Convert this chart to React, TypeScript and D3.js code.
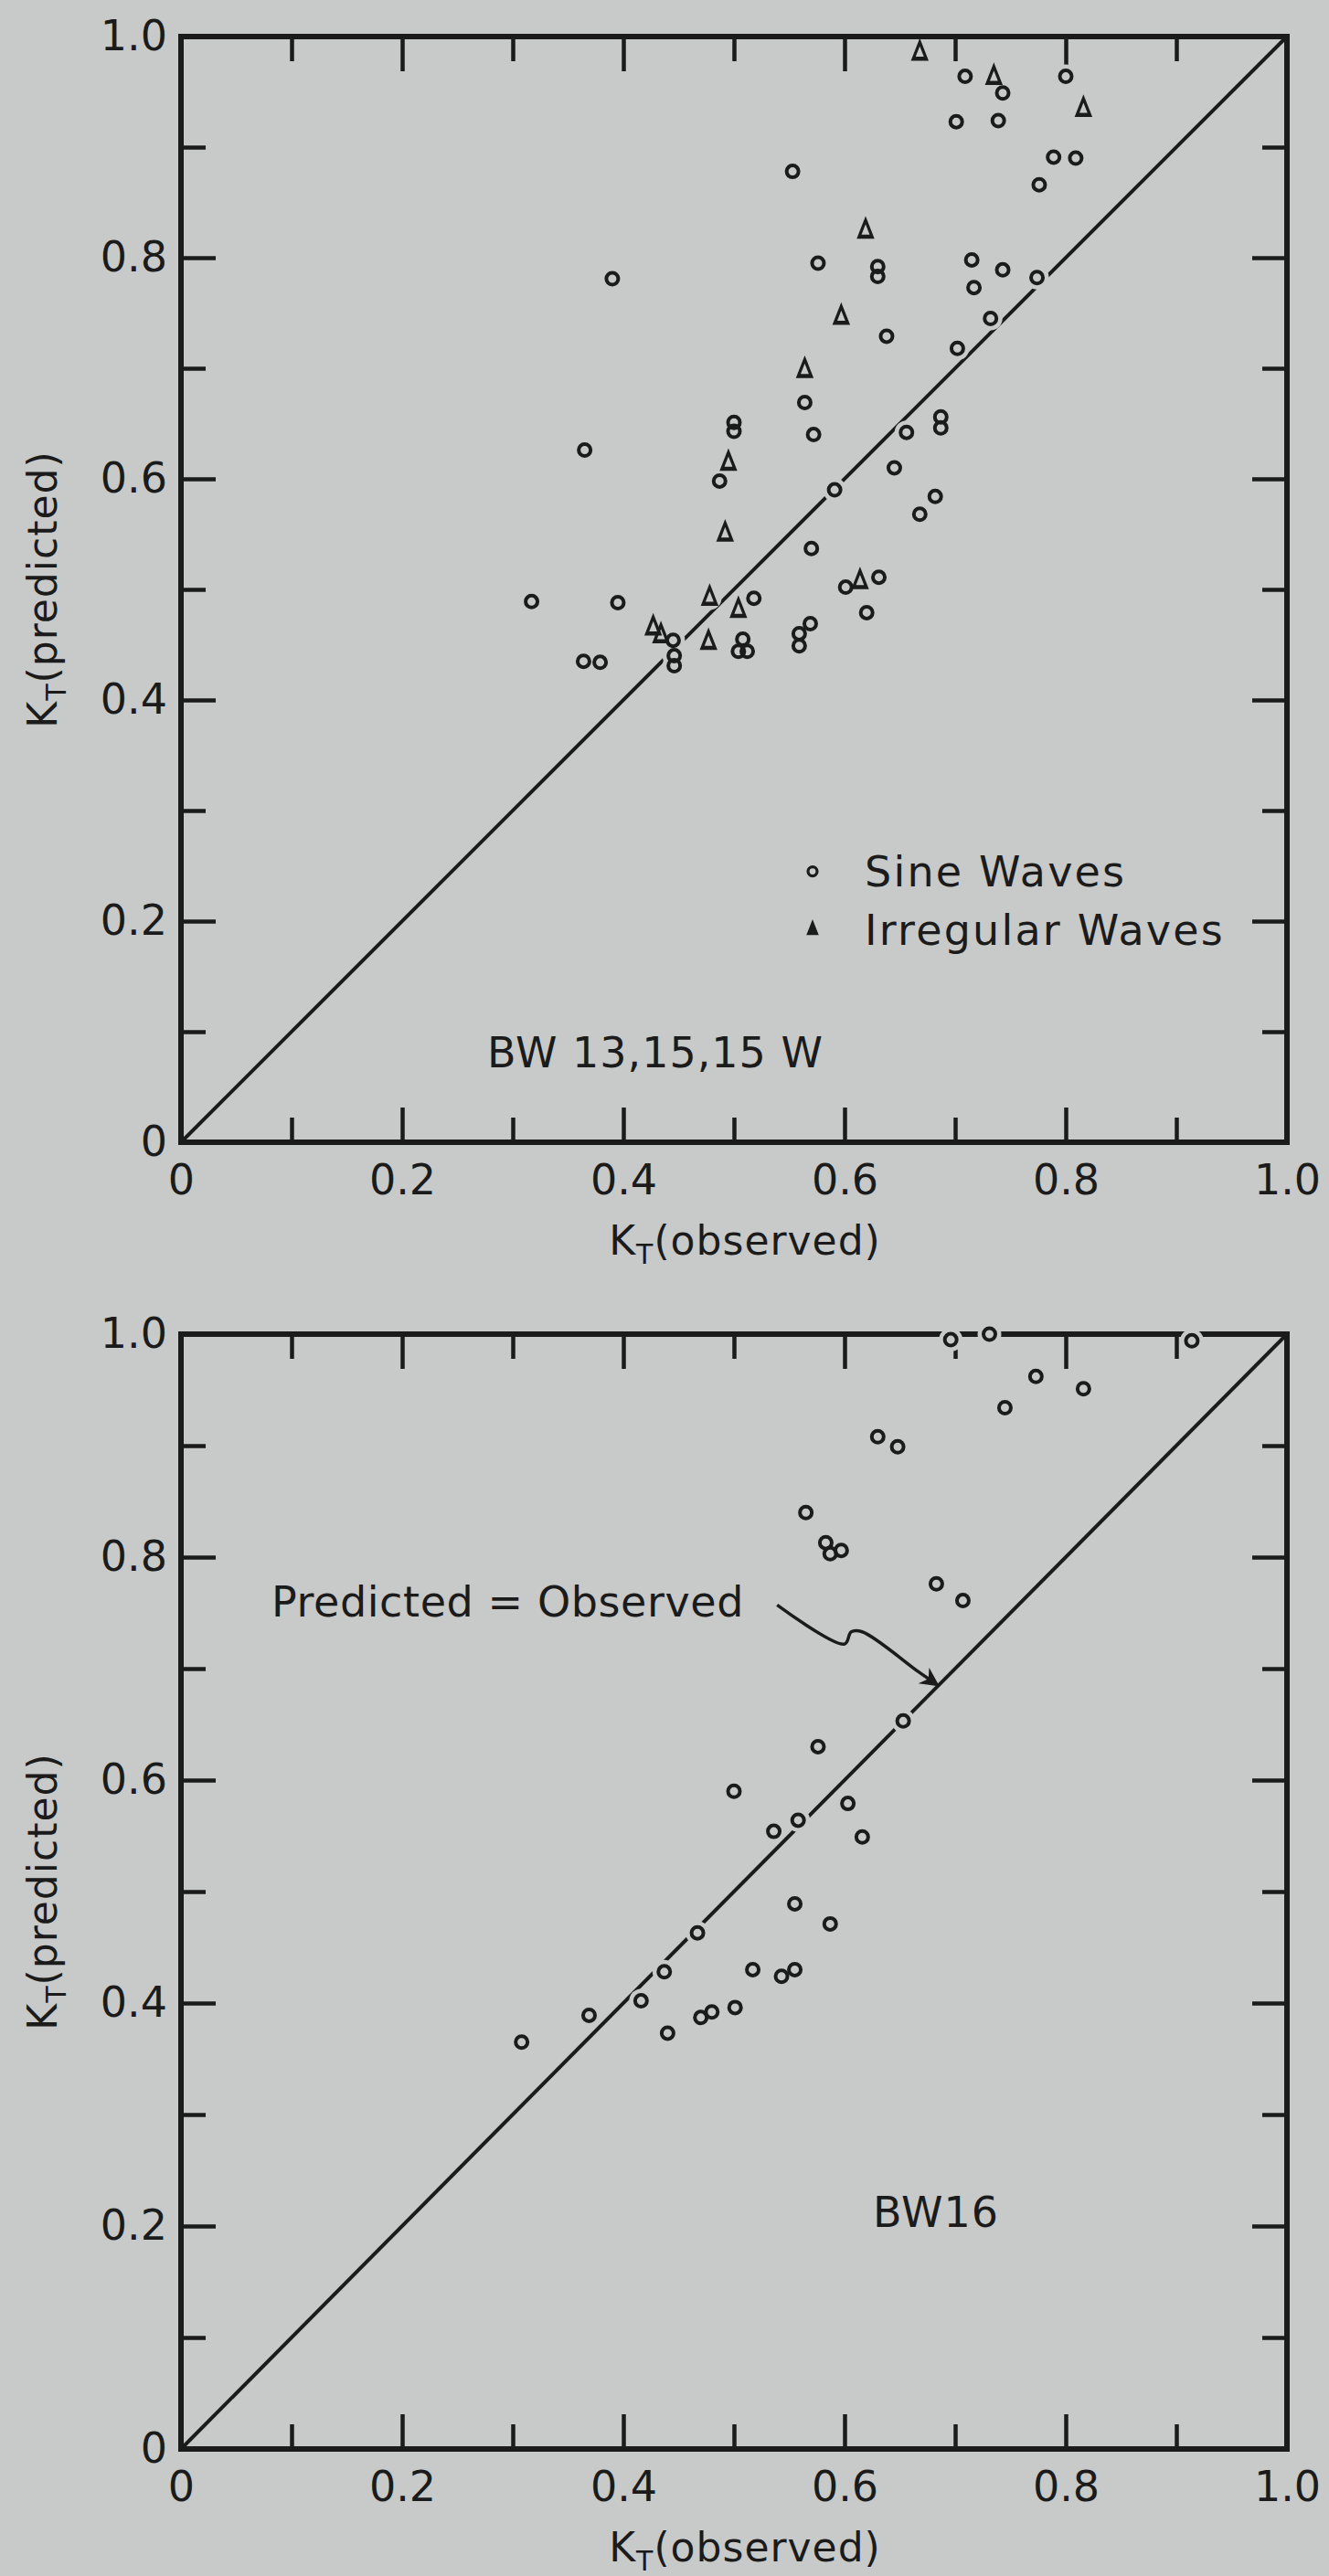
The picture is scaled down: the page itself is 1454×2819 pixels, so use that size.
import React, { useEffect, useRef } from 'react';
import * as d3 from 'd3';

// ---- data: K_T observed vs K_T predicted ----

// upper panel (BW 13, 15, 15W), sine waves
const topSineObs = [
  0.553, 0.576, 0.63, 0.63, 0.39, 0.638, 0.564, 0.5, 0.5, 0.572, 0.365, 0.656,
  0.709, 0.743, 0.8, 0.701, 0.739, 0.789, 0.809, 0.776, 0.715, 0.743, 0.774,
  0.717, 0.732, 0.702, 0.687, 0.687, 0.487, 0.591, 0.645, 0.57, 0.631, 0.601,
  0.62, 0.317, 0.395, 0.518, 0.445, 0.446, 0.446, 0.364, 0.379, 0.504, 0.512,
  0.508, 0.559, 0.569, 0.559, 0.682, 0.668
];
const topSinePred = [
  0.878, 0.795, 0.792, 0.783, 0.781, 0.729, 0.669, 0.651, 0.643, 0.64, 0.626,
  0.642, 0.964, 0.949, 0.964, 0.923, 0.924, 0.891, 0.89, 0.866, 0.798, 0.789,
  0.782, 0.773, 0.745, 0.718, 0.656, 0.646, 0.598, 0.59, 0.61, 0.537, 0.511,
  0.502, 0.479, 0.489, 0.488, 0.492, 0.454, 0.44, 0.431, 0.435, 0.434, 0.444,
  0.444, 0.455, 0.449, 0.469, 0.46, 0.584, 0.568
];

// upper panel, irregular waves
const topIrregObs = [
  0.668, 0.735, 0.816, 0.619, 0.597, 0.564, 0.495, 0.492, 0.614, 0.478, 0.504,
  0.427, 0.434, 0.477
];
const topIrregPred = [
  0.985, 0.963, 0.934, 0.824, 0.746, 0.698, 0.614, 0.55, 0.507, 0.492, 0.481,
  0.465, 0.458, 0.452
];

// lower panel (BW16), sine waves
const bottomSineObs = [
  0.696, 0.731, 0.914, 0.773, 0.816, 0.745, 0.63, 0.648, 0.683, 0.707, 0.653,
  0.565, 0.583, 0.587, 0.597, 0.576, 0.5, 0.603, 0.558, 0.536, 0.616, 0.555,
  0.587, 0.467, 0.437, 0.517, 0.543, 0.555, 0.416, 0.369, 0.501, 0.47, 0.48,
  0.44, 0.308
];
const bottomSinePred = [
  0.995, 1.0, 0.994, 0.962, 0.951, 0.934, 0.908, 0.899, 0.776, 0.761, 0.653,
  0.84, 0.813, 0.803, 0.806, 0.63, 0.59, 0.579, 0.564, 0.554, 0.549, 0.489,
  0.471, 0.463, 0.428, 0.43, 0.424, 0.43, 0.402, 0.389, 0.396, 0.387, 0.392,
  0.373, 0.365
];

// "Predicted = Observed" pointer, in data units
const arrowObs = [0.539, 0.6, 0.606, 0.616, 0.667, 0.683];
const arrowPred = [0.757, 0.722, 0.733, 0.733, 0.697, 0.686];

const majorTicks = [0, 0.2, 0.4, 0.6, 0.8, 1.0];
const minorTicks = [0.1, 0.3, 0.5, 0.7, 0.9];
const tickLabels = ['0', '0.2', '0.4', '0.6', '0.8', '1.0'];

const W = 1454;
const H = 2819;
const BG = '#c8cac9';
const INK = '#1b1b1b';
const FONT = '"DejaVu Sans", Verdana, sans-serif';

type Sel = d3.Selection<SVGGElement, unknown, null, undefined>;

interface PanelCfg {
  yBottom: number;
  yTop: number;
  sine: Array<[number, number]>;
  irregular: Array<[number, number]>;
  label: string;
  labelX: number;
  labelY: number;
  legend: boolean;
  arrow: boolean;
}

function drawPanel(root: Sel, cfg: PanelCfg) {
  const x = d3.scaleLinear().domain([0, 1]).range([198, 1408]);
  const y = d3.scaleLinear().domain([0, 1]).range([cfg.yBottom, cfg.yTop]);
  const g = root.append('g');

  const labelFmt = (d: d3.NumberValue) => tickLabels[majorTicks.indexOf(+d)] ?? '';

  // inward ticks on all four sides
  const sides: Array<[() => d3.Axis<d3.NumberValue>, string, boolean]> = [
    [() => d3.axisBottom(x), `translate(0,${y(0)})`, true],
    [() => d3.axisTop(x), `translate(0,${y(1)})`, false],
    [() => d3.axisLeft(y), `translate(${x(0)},0)`, true],
    [() => d3.axisRight(y), `translate(${x(1)},0)`, false]
  ];
  sides.forEach(([make, tr, labelled], i) => {
    const vertical = i >= 2;
    const major = make()
      .tickValues(majorTicks)
      .tickSize(-38)
      .tickPadding(vertical ? 15 : 24)
      .tickFormat(labelled ? labelFmt : () => '');
    const minor = make().tickValues(minorTicks).tickSize(-27).tickFormat(() => '');
    [major, minor].forEach(ax => {
      const a = g.append('g').attr('transform', tr).call(ax);
      a.select('.domain').remove();
      a.selectAll('line').attr('stroke', INK).attr('stroke-width', 4.5);
      a.selectAll('text')
        .attr('fill', INK)
        .style('font-family', FONT)
        .style('font-size', '46px');
    });
  });

  // frame
  g.append('rect')
    .attr('x', x(0))
    .attr('y', y(1))
    .attr('width', x(1) - x(0))
    .attr('height', y(0) - y(1))
    .attr('fill', 'none')
    .attr('stroke', INK)
    .attr('stroke-width', 6);

  // predicted = observed
  g.append('line')
    .attr('x1', x(0))
    .attr('y1', y(0))
    .attr('x2', x(1))
    .attr('y2', y(1))
    .attr('stroke', INK)
    .attr('stroke-width', 4);

  // paper-coloured halos break the line around the symbols
  const all = cfg.sine.concat(cfg.irregular);
  g.append('g')
    .selectAll('circle')
    .data(all)
    .join('circle')
    .attr('cx', d => x(d[0]))
    .attr('cy', d => y(d[1]))
    .attr('r', 13)
    .attr('fill', BG);

  g.append('g')
    .selectAll('circle')
    .data(cfg.sine)
    .join('circle')
    .attr('cx', d => x(d[0]))
    .attr('cy', d => y(d[1]))
    .attr('r', 6.5)
    .attr('fill', 'none')
    .attr('stroke', INK)
    .attr('stroke-width', 4);

  const tri = d3.symbol().type(d3.symbolTriangle).size(120);
  g.append('g')
    .selectAll('path')
    .data(cfg.irregular)
    .join('path')
    .attr('d', tri)
    .attr('transform', d => `translate(${x(d[0])},${y(d[1])}) scale(0.85,1.25)`)
    .attr('fill', 'none')
    .attr('stroke', INK)
    .attr('stroke-width', 3.6);

  // axis titles
  const xt = g.append('text')
    .attr('x', x(0.5) + 12)
    .attr('y', y(0) + 123)
    .attr('text-anchor', 'middle')
    .attr('fill', INK)
    .style('font-family', FONT)
    .style('font-size', '44px')
    .style('letter-spacing', '1px');
  xt.append('tspan').text('K');
  xt.append('tspan').attr('dy', 10).style('font-size', '30px').text('T');
  xt.append('tspan').attr('dy', -10).text('(observed)');

  const cy = (y(0) + y(1)) / 2;
  const yt = g.append('text')
    .attr('transform', `translate(62,${cy}) rotate(-90)`)
    .attr('text-anchor', 'middle')
    .attr('fill', INK)
    .style('font-family', FONT)
    .style('font-size', '44px')
    .style('letter-spacing', '1px');
  yt.append('tspan').text('K');
  yt.append('tspan').attr('dy', 10).style('font-size', '30px').text('T');
  yt.append('tspan').attr('dy', -10).text('(predicted)');

  // panel label
  g.append('text')
    .attr('x', cfg.labelX)
    .attr('y', cfg.labelY)
    .attr('dy', '0.35em')
    .attr('fill', INK)
    .style('font-family', FONT)
    .style('font-size', '46px')
    .style('letter-spacing', '1px')
    .text(cfg.label);

  if (cfg.legend) {
    const lg = g.append('g').attr('transform', `translate(889,${y(0.245)})`);
    lg.append('circle')
      .attr('r', 5)
      .attr('fill', 'none')
      .attr('stroke', INK)
      .attr('stroke-width', 3.2);
    lg.append('path')
      .attr('d', d3.symbol().type(d3.symbolTriangle).size(110))
      .attr('transform', 'translate(0,64) scale(0.85,1.25)')
      .attr('fill', INK);
    ['Sine Waves', 'Irregular Waves'].forEach((t, i) => {
      lg.append('text')
        .attr('x', 57)
        .attr('y', i * 64)
        .attr('dy', '0.35em')
        .attr('fill', INK)
        .style('font-family', FONT)
        .style('font-size', '46px')
        .style('letter-spacing', '2.2px')
        .text(t);
    });
  }

  if (cfg.arrow) {
    g.append('text')
      .attr('x', 297)
      .attr('y', y(0.76))
      .attr('dy', '0.35em')
      .attr('fill', INK)
      .style('font-family', FONT)
      .style('font-size', '46px')
      .style('letter-spacing', '0.6px')
      .text('Predicted = Observed');

    const pts = arrowObs.map((o, i) => [o, arrowPred[i]] as [number, number]);
    g.append('path')
      .datum(pts)
      .attr('d', d3.line<[number, number]>().x(d => x(d[0])).y(d => y(d[1])).curve(d3.curveCatmullRom))
      .attr('fill', 'none')
      .attr('stroke', INK)
      .attr('stroke-width', 3.5)
      .attr('marker-end', 'url(#arrowhead)');
  }
}

const App: React.FC = () => {
  const svgRef = useRef<SVGSVGElement>(null);

  useEffect(() => {
    if (!svgRef.current) return;
    const svg = d3.select(svgRef.current);
    svg.selectAll('*').remove();

    svg.append('defs')
      .append('marker')
      .attr('id', 'arrowhead')
      .attr('viewBox', '0 0 10 10')
      .attr('refX', 8)
      .attr('refY', 5)
      .attr('markerWidth', 8)
      .attr('markerHeight', 6)
      .attr('markerUnits', 'strokeWidth')
      .attr('orient', 'auto')
      .append('path')
      .attr('d', 'M0,0 L10,5 L0,10 L3,5 Z')
      .attr('fill', INK);

    svg.append('rect').attr('width', W).attr('height', H).attr('fill', BG);
    const root = svg.append('g') as unknown as Sel;

    drawPanel(root, {
      yBottom: 1250,
      yTop: 40,
      sine: topSineObs.map((o, i) => [o, topSinePred[i]]),
      irregular: topIrregObs.map((o, i) => [o, topIrregPred[i]]),
      label: 'BW 13,15,15 W',
      labelX: 533,
      labelY: 1152,
      legend: true,
      arrow: false
    });

    drawPanel(root, {
      yBottom: 2680,
      yTop: 1460,
      sine: bottomSineObs.map((o, i) => [o, bottomSinePred[i]]),
      irregular: [],
      label: 'BW16',
      labelX: 955,
      labelY: 2421,
      legend: false,
      arrow: true
    });
  }, []);

  return (
    <svg
      ref={svgRef}
      width={W}
      height={H}
      style={{ position: 'absolute', left: 0, top: 0, display: 'block' }}
    />
  );
};

export default App;
